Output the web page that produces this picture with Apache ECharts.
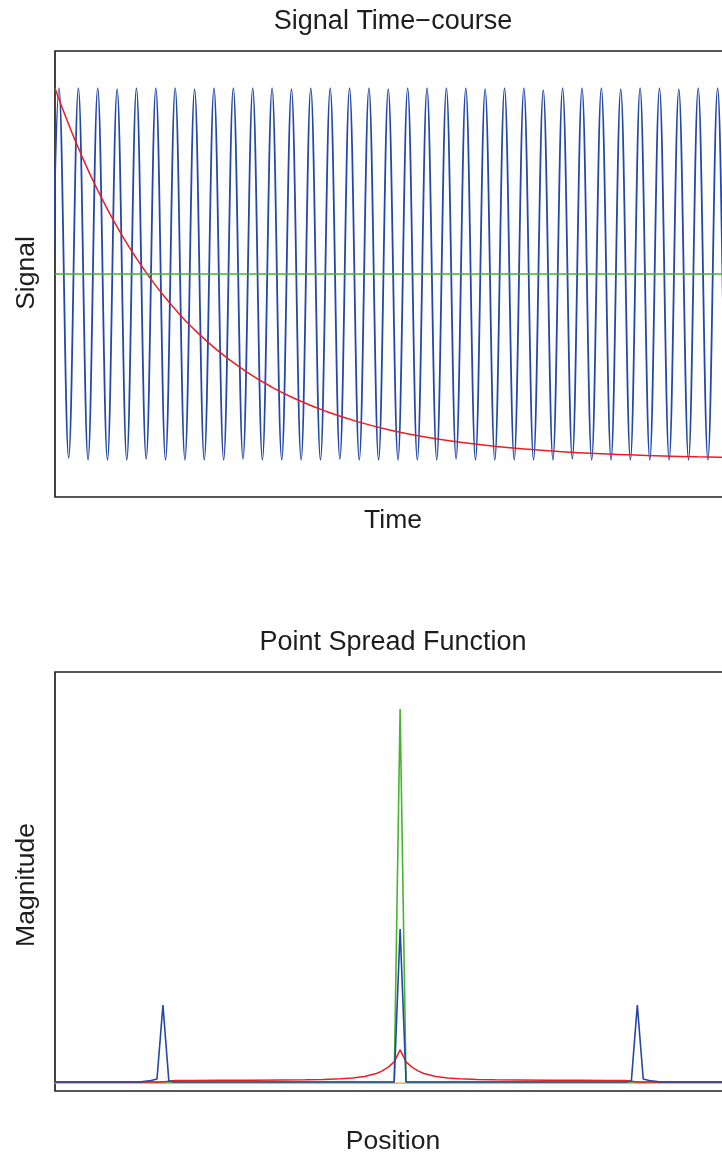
<!DOCTYPE html>
<html><head><meta charset="utf-8">
<script src="https://cdn.jsdelivr.net/npm/echarts@6/dist/echarts.min.js"></script>
<style>html,body{margin:0;padding:0;background:#fff;overflow:hidden;width:722px;height:1158px}#c{width:760px;height:1158px}</style>
</head><body><div id="c"></div>
<script>
// ---------- Panel 1: Signal Time-course (time in % of window) ----------
// extrema of the oscillating (blue) signal
const sigBlueTime = [-0.84, 0.59, 2.02, 3.46, 4.89, 6.32, 7.76, 9.19, 10.62, 12.05, 13.49, 14.92, 16.35, 17.78,
  19.22, 20.65, 22.08, 23.52, 24.95, 26.38, 27.81, 29.25, 30.68, 32.11, 33.54, 34.98, 36.41, 37.84, 39.27,
  40.71, 42.14, 43.57, 45.01, 46.44, 47.87, 49.30, 50.74, 52.17, 53.60, 55.03, 56.47, 57.90, 59.33, 60.77,
  62.20, 63.63, 65.06, 66.50, 67.93, 69.36, 70.79, 72.23, 73.66, 75.09, 76.53, 77.96, 79.39, 80.82, 82.26,
  83.69, 85.12, 86.55, 87.99, 89.42, 90.85, 92.28, 93.72, 95.15, 96.58, 98.02, 99.45, 100.88];
const sigBlueVal = [-1, 1, -0.99, 1, -1, 1, -1, 0.995, -1, 1, -0.995, 1, -1, 1,
  -1, 0.995, -1, 1, -1, 1, -0.995, 1, -1, 1, -1, 0.995, -1, 1, -1,
  1, -0.995, 1, -1, 1, -1, 0.995, -1, 1, -1, 1, -1, 1, -0.995, 1,
  -1, 0.995, -1, 1, -1, 1, -1, 0.99, -1, 1, -0.995, 1, -1, 1, -1,
  0.995, -1, 1, -1, 1, -1, 0.995, -1, 1, -1, 1, -1, 1];
const sigRedTime = [0, 2, 4, 6, 8, 10, 12, 14, 16, 18, 20, 24, 28, 32, 36, 40, 45, 50, 55, 60, 65, 70, 75, 80, 85, 90, 95, 100];
const sigRedVal = [1, 0.807, 0.632, 0.474, 0.332, 0.203, 0.087, -0.018, -0.113, -0.199, -0.277, -0.410, -0.518,
  -0.607, -0.679, -0.738, -0.797, -0.843, -0.878, -0.905, -0.927, -0.943, -0.956, -0.966, -0.973, -0.979, -0.984, -0.988];
const sigGreenTime = [0, 100];
const sigGreenVal = [0, 0];

// ---------- Panel 2: Point Spread Function (position in samples) ----------
const psfBluePos = [-59, -44, -43, -42, -41, -40, -39, -38, -1, 0, 1, 38, 39, 40, 41, 42, 43, 44, 56];
const psfBlueVal = [0, 0, 0.002, 0.004, 0.008, 0.206, 0.003, 0, 0, 0.41, 0, 0, 0.003, 0.206, 0.008, 0.004, 0.002, 0, 0];
const psfGreenPos = [-59, -1, 0, 1, 56];
const psfGreenVal = [0, 0, 1, 0, 0];
const psfRedPos = [-59, -40, -39, -38, -35, -30, -25, -20, -16, -13, -10, -8, -7, -6, -5, -4, -3, -2, -1, 0,
  1, 2, 3, 4, 5, 6, 7, 8, 10, 13, 16, 20, 25, 30, 35, 38, 39, 40, 56];
const psfRedVal = [0, 0, 0.002, 0.004, 0.004, 0.0045, 0.005, 0.0055, 0.006, 0.007, 0.009, 0.011, 0.013, 0.015,
  0.019, 0.023, 0.030, 0.040, 0.054, 0.086, 0.054, 0.040, 0.030, 0.023, 0.019, 0.015, 0.013, 0.011, 0.009,
  0.007, 0.006, 0.0055, 0.005, 0.0045, 0.004, 0.004, 0.002, 0, 0];
const psfOrangePos = [-59, 56];
const psfOrangeVal = [-0.003, -0.003];

const pairs = (xs, ys) => xs.map((x, i) => [x, ys[i]]);

const BLUE = '#2448A8', RED = '#EE1C25', GREEN = '#45B52E', ORANGE = '#D9A52C', INK = '#1d1d1d';
const FONT = '"Liberation Sans", Arial, Helvetica, sans-serif';

const chart = echarts.init(document.getElementById('c'), null, {renderer: 'canvas'});
const hiddenAxis = {show: true, axisLine: {show: false}, axisTick: {show: false}, axisLabel: {show: false}, splitLine: {show: false}};
function txt(x, y, s, size, rot) {
  return {type: 'text', x: x, y: y, rotation: rot || 0, silent: true,
    style: {text: s, font: size + 'px ' + FONT, fill: INK, textAlign: 'center', textVerticalAlign: 'middle', align: 'center', verticalAlign: 'middle'}};
}
const gridBase = {show: true, borderColor: '#222', borderWidth: 1.7, backgroundColor: 'transparent', containLabel: false, outerBoundsMode: 'none'};
chart.setOption({
  animation: false,
  backgroundColor: '#fff',
  grid: [
    Object.assign({left: 55, top: 51, width: 676, height: 446}, gridBase),
    Object.assign({left: 55, top: 672, width: 676, height: 419}, gridBase)
  ],
  xAxis: [
    Object.assign({type: 'value', gridIndex: 0, min: 0, max: 100}, hiddenAxis),
    Object.assign({type: 'value', gridIndex: 1, min: -58.2, max: 55.8}, hiddenAxis)
  ],
  yAxis: [
    Object.assign({type: 'value', gridIndex: 0, min: -1.2, max: 1.2}, hiddenAxis),
    Object.assign({type: 'value', gridIndex: 1, min: -0.024, max: 1.099}, hiddenAxis)
  ],
  graphic: [
    txt(393, 22, 'Signal Time\u2212course', 27),
    txt(393, 521, 'Time', 26.5),
    txt(27, 273, 'Signal', 26.5, Math.PI / 2),
    txt(393, 643, 'Point Spread Function', 27),
    txt(393, 1142, 'Position', 26.5),
    txt(27, 885, 'Magnitude', 26.5, Math.PI / 2)
  ],
  series: [
    {type: 'line', xAxisIndex: 0, yAxisIndex: 0, data: pairs(sigBlueTime, sigBlueVal), showSymbol: false, symbol: 'none',
      smooth: 0.364, smoothMonotone: 'x', lineStyle: {color: BLUE, width: 1.8}, clip: true, z: 2},
    {type: 'line', xAxisIndex: 0, yAxisIndex: 0, data: pairs(sigRedTime, sigRedVal), showSymbol: false, symbol: 'none',
      smooth: 0.5, lineStyle: {color: RED, width: 1.5}, clip: true, z: 3},
    {type: 'line', xAxisIndex: 0, yAxisIndex: 0, data: pairs(sigGreenTime, sigGreenVal), showSymbol: false, symbol: 'none',
      lineStyle: {color: GREEN, width: 1.3}, clip: true, z: 4},

    {type: 'line', xAxisIndex: 1, yAxisIndex: 1, data: pairs(psfOrangePos, psfOrangeVal), showSymbol: false, symbol: 'none',
      lineStyle: {color: ORANGE, width: 1.3}, clip: true, z: 1},
    {type: 'line', xAxisIndex: 1, yAxisIndex: 1, data: pairs(psfGreenPos, psfGreenVal), showSymbol: false, symbol: 'none',
      lineStyle: {color: GREEN, width: 1.6}, clip: true, z: 2},
    {type: 'line', xAxisIndex: 1, yAxisIndex: 1, data: pairs(psfRedPos, psfRedVal), showSymbol: false, symbol: 'none',
      lineStyle: {color: RED, width: 1.5}, clip: true, z: 3},
    {type: 'line', xAxisIndex: 1, yAxisIndex: 1, data: pairs(psfBluePos, psfBlueVal), showSymbol: false, symbol: 'none',
      lineStyle: {color: BLUE, width: 1.6}, clip: true, z: 4}
  ]
});
</script></body></html>
